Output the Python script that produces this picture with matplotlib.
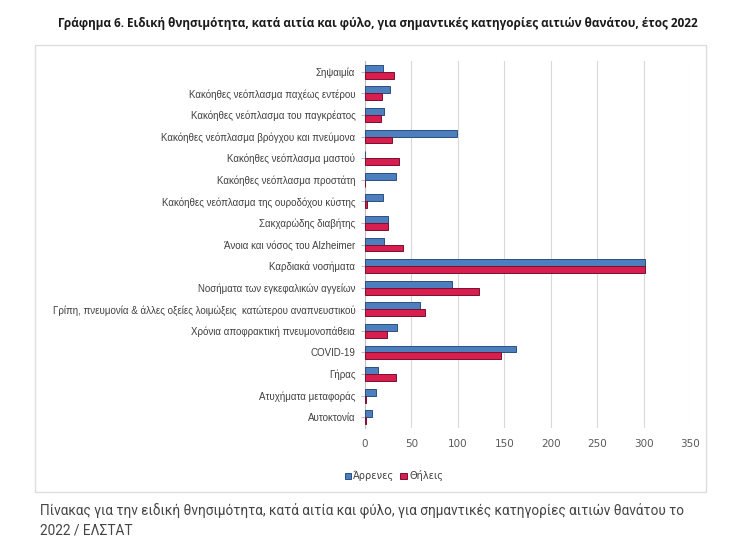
import matplotlib
matplotlib.use("Agg")
import matplotlib.pyplot as plt
from matplotlib.patches import Rectangle
import numpy as np

categories = [
    "Σηψαιμία",
    "Κακόηθες νεόπλασμα παχέως εντέρου",
    "Κακόηθες νεόπλασμα του παγκρέατος",
    "Κακόηθες νεόπλασμα βρόγχου και πνεύμονα",
    "Κακόηθες νεόπλασμα μαστού",
    "Κακόηθες νεόπλασμα προστάτη",
    "Κακόηθες νεόπλασμα της ουροδόχου κύστης",
    "Σακχαρώδης διαβήτης",
    "Άνοια και νόσος του Alzheimer",
    "Καρδιακά νοσήματα",
    "Νοσήματα των εγκεφαλικών αγγείων",
    "Γρίπη, πνευμονία & άλλες οξείες λοιμώξεις  κατώτερου αναπνευστικού",
    "Χρόνια αποφρακτική πνευμονοπάθεια",
    "COVID-19",
    "Γήρας",
    "Ατυχήματα μεταφοράς",
    "Αυτοκτονία",
]
males = [19, 27, 20, 99, 0.3, 33, 19, 25, 20, 301, 94, 59, 34, 163, 14, 12, 8]
females = [31, 18, 17, 29, 37, 0, 2.5, 25, 41, 301, 123, 65, 24, 146, 33, 1.5, 1]
xticks = [0, 50, 100, 150, 200, 250, 300, 350]
legend_labels = ["Άρρενες", "Θήλεις"]

title = "Γράφημα 6. Ειδική θνησιμότητα, κατά αιτία και φύλο, για σημαντικές κατηγορίες αιτιών θανάτου, έτος 2022"
caption = ("Πίνακας για την ειδική θνησιμότητα, κατά αιτία και φύλο, για σημαντικές κατηγορίες αιτιών θανάτου το\n"
           "2022 / ΕΛΣΤΑΤ")

W, H = 731, 548
fig = plt.figure(figsize=(W / 100, H / 100), dpi=100)
fig.patch.set_facecolor("white")

# chart frame
fig.patches.append(Rectangle((35 / W, 1 - 492 / H), (706 - 35) / W, (492 - 45) / H,
                             transform=fig.transFigure, facecolor="white",
                             edgecolor="#dddddd", linewidth=1.0, zorder=-5))

ax = fig.add_axes([365 / W, 1 - 428 / H, (690 - 365) / W, (428 - 61) / H])
ax.set_zorder(5)
ax.set_facecolor("none")

y = np.arange(len(categories))
h = 0.32
blue = "#4d7fbf"
blue_e = "#2c4f80"
red = "#d81e4f"
red_e = "#7a1030"
ax.barh(y - h / 2, males, height=h, color=blue, edgecolor=blue_e, linewidth=0.7,
        label=legend_labels[0], zorder=3)
ax.barh(y + h / 2, females, height=h, color=red, edgecolor=red_e, linewidth=0.7,
        label=legend_labels[1], zorder=3)

ax.set_ylim(len(categories) - 0.5, -0.5)
ax.set_xlim(0, 350)
ax.set_xticks(xticks)
ax.set_xticklabels([str(t) for t in xticks])
ax.set_yticks(y)
ax.set_yticklabels(categories)
ax.grid(axis="x", color="#d9d9d9", linewidth=0.8, zorder=0)
for s in ["top", "right", "bottom"]:
    ax.spines[s].set_visible(False)
ax.spines["left"].set_color("#bfbfbf")
ax.spines["left"].set_linewidth(0.8)
ax.tick_params(axis="y", length=3, color="#bfbfbf", labelsize=7.0, labelcolor="#404040", pad=4)
ax.tick_params(axis="x", length=0, labelsize=7.5, labelcolor="#595959", pad=8)
for lab in ax.get_yticklabels():
    lab.set_family("Liberation Sans")
for lab in ax.get_xticklabels():
    lab.set_family("DejaVu Sans")

leg = ax.legend(loc="upper left", bbox_to_anchor=(-0.075, -0.105), ncol=2, frameon=False,
                fontsize=7, handlelength=0.7, handleheight=0.7, handletextpad=0.2,
                columnspacing=0.6, borderaxespad=0)
for t in leg.get_texts():
    t.set_color("#404040")

fig.text(378 / W, 1 - 23 / H, title, ha="center", va="center", fontsize=8.5,
         fontweight="bold", family="Open Sans", color="#1a1a1a")
fig.text(40 / W, 1 - 520 / H, caption, ha="left", va="center", fontsize=9.8,
         family="Roboto", color="#444444", linespacing=1.5)

fig.savefig("out.png", dpi=100)
